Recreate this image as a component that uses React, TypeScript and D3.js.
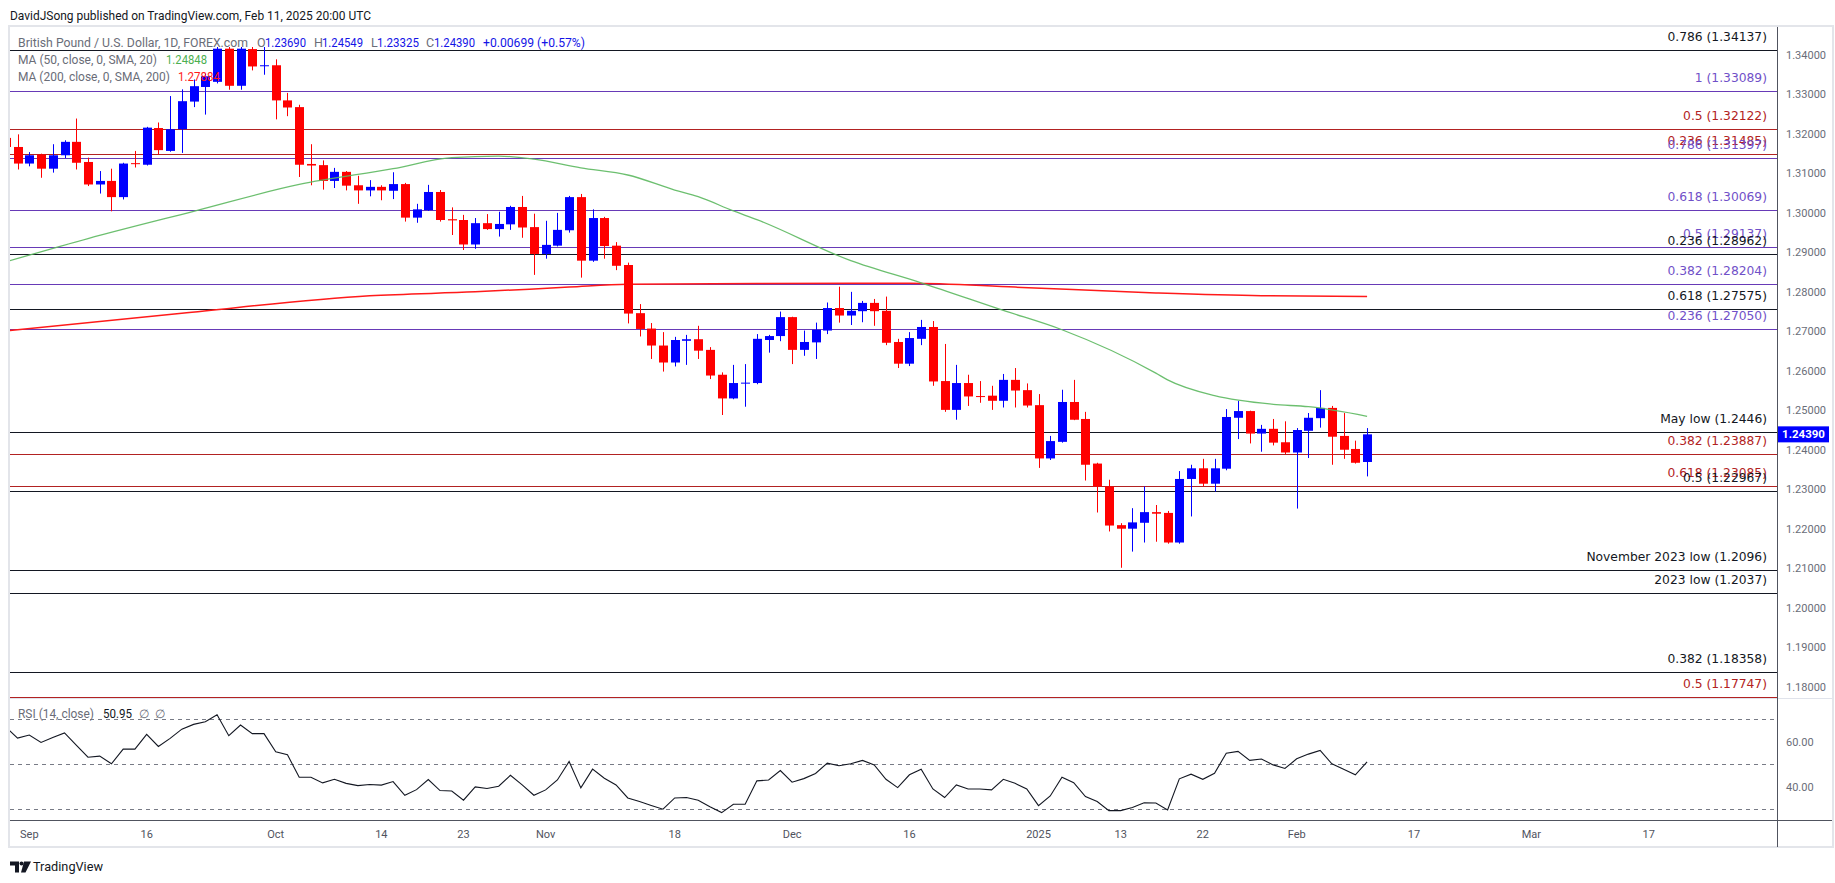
import React from 'react';
import * as d3 from 'd3';

// ---------- DATA ----------
const dates = [
  '2024-08-29','2024-08-30',
  '2024-09-02','2024-09-03','2024-09-04','2024-09-05','2024-09-06','2024-09-09','2024-09-10','2024-09-11','2024-09-12','2024-09-13',
  '2024-09-16','2024-09-17','2024-09-18','2024-09-19','2024-09-20','2024-09-23','2024-09-24','2024-09-25','2024-09-26','2024-09-27','2024-09-30',
  '2024-10-01','2024-10-02','2024-10-03','2024-10-04','2024-10-07','2024-10-08','2024-10-09','2024-10-10','2024-10-11','2024-10-14','2024-10-15',
  '2024-10-16','2024-10-17','2024-10-18','2024-10-21','2024-10-22','2024-10-23','2024-10-24','2024-10-25','2024-10-28','2024-10-29','2024-10-30','2024-10-31',
  '2024-11-01','2024-11-04','2024-11-05','2024-11-06','2024-11-07','2024-11-08','2024-11-11','2024-11-12','2024-11-13','2024-11-14','2024-11-15',
  '2024-11-18','2024-11-19','2024-11-20','2024-11-21','2024-11-22','2024-11-25','2024-11-26','2024-11-27','2024-11-28','2024-11-29',
  '2024-12-02','2024-12-03','2024-12-04','2024-12-05','2024-12-06','2024-12-09','2024-12-10','2024-12-11','2024-12-12','2024-12-13',
  '2024-12-16','2024-12-17','2024-12-18','2024-12-19','2024-12-20','2024-12-23','2024-12-24','2024-12-26','2024-12-27','2024-12-30','2024-12-31',
  '2025-01-02','2025-01-03','2025-01-06','2025-01-07','2025-01-08','2025-01-09','2025-01-10','2025-01-13','2025-01-14','2025-01-15','2025-01-16',
  '2025-01-17','2025-01-20','2025-01-21','2025-01-22','2025-01-23','2025-01-24','2025-01-27','2025-01-28','2025-01-29','2025-01-30','2025-01-31',
  '2025-02-03','2025-02-04','2025-02-05','2025-02-06','2025-02-07','2025-02-10','2025-02-11',
];

const opens = [
  1.3190,1.3167,
  1.3125,1.3148,1.3112,1.3146,1.3180,1.3129,1.3072,1.3081,1.3040,1.3126,
  1.3122,1.3215,1.3157,1.3212,1.3282,1.3319,1.3332,1.3416,1.3322,1.3415,1.3372,
  1.3374,1.3285,1.3268,1.3124,1.3121,1.3081,1.3104,1.3070,1.3057,1.3066,1.3056,
  1.3073,1.2988,1.3007,1.3053,1.2984,1.2982,1.2920,1.2974,1.2959,1.2971,1.3015,1.2964,
  1.2896,1.2917,1.2956,1.3040,1.2879,1.2987,1.2917,1.2868,1.2746,1.2707,1.2664,
  1.2621,1.2676,1.2680,1.2653,1.2590,1.2530,1.2568,1.2569,1.2678,1.2688,
  1.2736,1.2653,1.2672,1.2702,1.2759,1.2740,1.2751,1.2772,1.2752,1.2673,
  1.2618,1.2681,1.2711,1.2574,1.2501,1.2569,1.2536,1.2537,1.2524,1.2577,1.2551,
  1.2513,1.2378,1.2420,1.2521,1.2478,1.2365,1.2307,1.2209,1.2200,1.2215,1.2242,
  1.2240,1.2165,1.2326,1.2353,1.2314,1.2352,1.2481,1.2498,1.2441,1.2453,1.2419,
  1.2393,1.2448,1.2480,1.2506,1.2435,1.2402,1.23690,
];

const highs = [
  1.3200,1.3199,
  1.3154,1.3150,1.3174,1.3184,1.3239,1.3140,1.3106,1.3112,1.3127,1.3157,
  1.3218,1.3229,1.3296,1.3313,1.3338,1.3353,1.3428,1.3425,1.3434,1.3425,1.3423,
  1.3389,1.3304,1.3274,1.3174,1.3133,1.3114,1.3106,1.3094,1.3083,1.3070,1.3103,
  1.3076,1.3023,1.3071,1.3058,1.3014,1.2995,1.2987,1.2997,1.3003,1.3018,1.3043,1.2998,
  1.2980,1.3000,1.3043,1.3048,1.3009,1.2990,1.2926,1.2874,1.2769,1.2721,1.2698,
  1.2686,1.2691,1.2714,1.2660,1.2596,1.2615,1.2617,1.2693,1.2691,1.2750,
  1.2737,1.2702,1.2722,1.2773,1.2813,1.2800,1.2777,1.2782,1.2788,1.2681,
  1.2698,1.2729,1.2726,1.2668,1.2615,1.2590,1.2574,1.2562,1.2592,1.2607,1.2568,
  1.2541,1.2435,1.2552,1.2577,1.2496,1.2367,1.2324,1.2214,1.2252,1.2307,1.2260,
  1.2245,1.2346,1.2362,1.2377,1.2377,1.2503,1.2524,1.2499,1.2463,1.2478,1.2472,
  1.2455,1.2493,1.2551,1.2511,1.2493,1.2423,1.24549,
];

const lows = [
  1.3150,1.3110,
  1.3118,1.3089,1.3102,1.3139,1.3110,1.3068,1.3049,1.3004,1.3034,1.3115,
  1.3120,1.3148,1.3155,1.3152,1.3268,1.3249,1.3328,1.3312,1.3312,1.3361,1.3350,
  1.3237,1.3245,1.3091,1.3070,1.3059,1.3063,1.3057,1.3023,1.3042,1.3032,1.3035,
  1.2978,1.2975,1.3005,1.2978,1.2944,1.2906,1.2909,1.2957,1.2940,1.2957,1.2937,1.2843,
  1.2884,1.2915,1.2950,1.2836,1.2876,1.2884,1.2855,1.2720,1.2687,1.2630,1.2598,
  1.2611,1.2615,1.2630,1.2579,1.2488,1.2528,1.2509,1.2566,1.2646,1.2675,
  1.2617,1.2638,1.2630,1.2693,1.2722,1.2716,1.2723,1.2714,1.2665,1.2607,
  1.2612,1.2665,1.2562,1.2496,1.2476,1.2511,1.2519,1.2501,1.2507,1.2507,1.2507,
  1.2354,1.2374,1.2418,1.2475,1.2322,1.2241,1.2193,1.2101,1.2142,1.2165,1.2167,
  1.2162,1.2162,1.2231,1.2308,1.2294,1.2348,1.2427,1.2416,1.2395,1.2411,1.2389,
  1.2251,1.2379,1.2456,1.2362,1.2377,1.2365,1.23325,
];

const closes = [
  1.3167,1.3125,
  1.3146,1.3112,1.3146,1.3180,1.3127,1.3072,1.3081,1.3040,1.3125,1.3124,
  1.3216,1.3159,1.3212,1.3283,1.3321,1.3346,1.3416,1.3322,1.3416,1.3371,1.3374,
  1.3285,1.3267,1.3122,1.3120,1.3081,1.3104,1.3069,1.3057,1.3066,1.3057,1.3073,
  1.2988,1.3009,1.3053,1.2982,1.2981,1.2920,1.2974,1.2959,1.2972,1.3015,1.2963,1.2896,
  1.2919,1.2957,1.3040,1.2879,1.2987,1.2916,1.2866,1.2745,1.2706,1.2664,1.2621,
  1.2678,1.2680,1.2651,1.2588,1.2530,1.2569,1.2570,1.2681,1.2688,1.2736,
  1.2653,1.2673,1.2704,1.2759,1.2740,1.2752,1.2772,1.2751,1.2671,1.2618,
  1.2683,1.2711,1.2573,1.2501,1.2569,1.2535,1.2534,1.2524,1.2577,1.2550,1.2512,
  1.2378,1.2422,1.2521,1.2476,1.2362,1.2307,1.2208,1.2200,1.2216,1.2242,1.2238,
  1.2165,1.2326,1.2353,1.2314,1.2353,1.2483,1.2498,1.2441,1.2453,1.2418,1.2393,
  1.2450,1.2481,1.2506,1.2433,1.2400,1.2367,1.24390,
];

const rsiValues = [
  66.4,61.5,
  62.9,59.6,61.8,63.8,58.4,53.0,53.5,50.1,56.6,56.6,
  63.2,57.8,61.4,65.5,67.6,68.8,71.9,62.6,67.3,63.5,63.5,
  55.4,54.1,44.1,44.1,41.6,43.2,41.4,40.4,40.9,40.6,42.2,
  36.1,38.6,43.1,38.2,38.0,33.9,39.8,39.1,40.1,45.0,40.7,36.1,
  38.5,42.9,51.1,39.4,47.7,43.7,40.7,34.9,33.3,31.6,29.9,
  34.9,35.1,33.9,31.0,28.4,32.1,32.1,42.5,42.9,47.1,
  41.9,43.5,45.8,50.4,49.2,50.1,51.6,49.6,43.2,39.5,
  45.2,47.7,38.9,35.1,40.7,38.9,38.9,38.5,43.2,41.4,38.9,
  31.5,35.8,44.1,41.7,35.5,33.3,29.3,29.3,30.7,32.8,32.7,
  29.6,43.4,45.5,43.2,45.9,54.8,55.6,51.6,52.2,49.6,48.0,
  52.3,54.4,56.0,50.1,47.7,45.2,50.95,
];

// moving averages at selected bars [bar index, value]
const ma50Bars = [0, 7, 16, 25, 33, 38, 42, 45, 49, 53, 57, 59, 62, 64, 72, 78, 85, 90, 98, 99, 103, 108, 111, 116];
const ma50Vals = [1.2876, 1.2935, 1.3004, 1.3072, 1.3112, 1.3140, 1.3144, 1.3136, 1.3114, 1.3096, 1.3058, 1.3041, 1.3005, 1.2983, 1.2879, 1.2823, 1.2753, 1.2704, 1.2594, 1.2577, 1.2537, 1.2515, 1.2509, 1.24848];
const ma200Bars = [0, 15, 31, 40, 48, 53, 64, 77, 86, 98, 107, 116];
const ma200Vals = [1.2701, 1.2746, 1.2790, 1.2800, 1.2812, 1.2819, 1.2821, 1.2822, 1.2812, 1.2797, 1.2790, 1.27884];

const fibLabels = [
  '0.786 (1.34137)', '1 (1.33089)', '0.5 (1.32122)', '0.236 (1.31485)', '0.786 (1.31397)',
  '0.618 (1.30069)', '0.5 (1.29137)', '0.236 (1.28962)', '0.382 (1.28204)', '0.618 (1.27575)',
  '0.236 (1.27050)', 'May low (1.2446)', '0.382 (1.23887)', '0.618 (1.23085)', '0.5 (1.22967)',
  'November 2023 low (1.2096)', '2023 low (1.2037)', '0.382 (1.18358)', '0.5 (1.17747)',
];
const fibValues = [
  1.34137, 1.33089, 1.32122, 1.31485, 1.31397,
  1.30069, 1.29137, 1.28962, 1.28204, 1.27575,
  1.27050, 1.2446, 1.23887, 1.23085, 1.22967,
  1.2096, 1.2037, 1.18358, 1.17747,
];
const fibKinds = [
  'black', 'purple', 'red', 'red', 'purple',
  'purple', 'purple', 'black', 'purple', 'black',
  'purple', 'black', 'red', 'red', 'black',
  'black', 'black', 'black', 'red',
];

const priceTicks = [1.34, 1.33, 1.32, 1.31, 1.30, 1.29, 1.28, 1.27, 1.26, 1.25, 1.24, 1.23, 1.22, 1.21, 1.20, 1.19, 1.18];
const rsiTicks = [60, 40];
const rsiBands = [70, 50, 30];
const timeTickLabels = ['Sep', '16', 'Oct', '14', '23', 'Nov', '18', 'Dec', '16', '2025', '13', '22', 'Feb', '17', 'Mar', '17'];
const timeTickBars = [2, 12, 23, 32, 39, 46, 57, 67, 77, 88, 95, 102, 110, 120, 130, 140];

const lastPrice = 1.2439;

// ---------- STYLE ----------
const UP = '#0000ff';
const DOWN = '#ff0000';
const KIND_COLOR: Record<string, string> = { black: '#131722', purple: '#673ab7', red: '#b22222' };
const KIND_TEXT: Record<string, string> = { black: '#131722', purple: '#7050c8', red: '#b22222' };

const W = 1835;
const H = 883;
const LEFT = 10;
const PLOT_R = 1777;
const FRAME_R = 1832;
const MAIN_T = 27;
const MAIN_B = 698;
const RSI_B = 820;
const AXIS_B = 847;

export default function App() {
  React.useEffect(() => {
    document.body.style.margin = '0';
  }, []);

  const x = d3.scaleLinear().domain([2, 116]).range([29.3, 29.3 + 114 * 11.735]);
  const yP = d3.scaleLinear().domain([1.18, 1.34]).range([686.6, 55]);
  const yR = d3.scaleLinear().domain([30, 70]).range([809, 719]);

  const maLine = d3
    .line<[number, number]>()
    .x((d) => x(d[0]))
    .y((d) => yP(d[1]))
    .curve(d3.curveMonotoneX);
  const ma50Path = maLine(ma50Bars.map((b, i) => [b, ma50Vals[i]] as [number, number])) || '';
  const ma200Path = maLine(ma200Bars.map((b, i) => [b, ma200Vals[i]] as [number, number])) || '';

  const rsiPath =
    d3
      .line<number>()
      .x((_, i) => x(i))
      .y((d) => yR(d))(rsiValues) || '';

  const fontAxis = 'Roboto, "Noto Sans", sans-serif';
  const fontLabel = '"DejaVu Sans", Verdana, sans-serif';
  const gray = '#6a6d78';
  const valBlue = '#1414e6';

  return (
    <div style={{ position: 'absolute', left: 0, top: 0, width: W, height: H, background: '#fff' }}>
      <svg width={W} height={H} viewBox={`0 0 ${W} ${H}`} style={{ display: 'block' }}>
        <defs>
          <clipPath id="mainClip">
            <rect x={LEFT} y={MAIN_T} width={PLOT_R - LEFT} height={MAIN_B - MAIN_T} />
          </clipPath>
          <clipPath id="rsiClip">
            <rect x={LEFT} y={MAIN_B} width={PLOT_R - LEFT} height={RSI_B - MAIN_B} />
          </clipPath>
        </defs>
        <rect x={0} y={0} width={W} height={H} fill="#ffffff" />

        {/* header */}
        <text x={10} y={19.5} fontFamily={fontAxis} fontSize={13} fill="#131722" textLength={361} lengthAdjust="spacingAndGlyphs">
          DavidJSong published on TradingView.com, Feb 11, 2025 20:00 UTC
        </text>

        {/* frame */}
        <rect x={LEFT - 1} y={MAIN_T - 1} width={FRAME_R - LEFT + 2} height={AXIS_B - MAIN_T + 1} fill="#fff" stroke="#e3e5ea" strokeWidth={2} />

        {/* main pane */}
        <g clipPath="url(#mainClip)">
          {fibValues.map((v, i) => (
            <line key={'fl' + i} x1={LEFT} x2={PLOT_R} y1={Math.round(yP(v)) + 0.5} y2={Math.round(yP(v)) + 0.5} stroke={KIND_COLOR[fibKinds[i]]} strokeWidth={1.2} />
          ))}
          {fibValues.map((v, i) => (
            <text key={'ft' + i} x={1767} y={yP(v) - 9} textAnchor="end" fontFamily={fontLabel} fontSize={12.3} fill={KIND_TEXT[fibKinds[i]]}>
              {fibLabels[i]}
            </text>
          ))}
          <path d={ma200Path} fill="none" stroke="#ff1a1a" strokeWidth={1.5} />
          {closes.map((c, k) => {
            const o = opens[k];
            const up = c >= o;
            const col = up ? UP : DOWN;
            const cx = Math.round(x(k));
            const yTop = yP(Math.max(o, c));
            const yBot = yP(Math.min(o, c));
            return (
              <g key={'c' + k}>
                <line x1={cx + 0.5} x2={cx + 0.5} y1={yP(highs[k])} y2={yP(lows[k])} stroke={col} strokeWidth={1} />
                <rect x={cx - 4} y={yTop} width={9} height={Math.max(1, yBot - yTop)} fill={col} />
              </g>
            );
          })}
          <path d={ma50Path} fill="none" stroke="#5cb85f" strokeWidth={1.3} strokeOpacity={0.9} />
          {/* legend background for first row */}
          <rect x={LEFT} y={MAIN_T} width={585} height={20} fill="#ffffff" />
        </g>

        {/* legend */}
        <g fontFamily={fontAxis} fontSize={12.5}>
          <text x={18} y={46.5} fill={gray} textLength={230} lengthAdjust="spacingAndGlyphs">British Pound / U.S. Dollar, 1D, FOREX.com</text>
          <text x={257} y={46.5} fill={gray}>O</text>
          <text x={265} y={46.5} fill={valBlue} textLength={41} lengthAdjust="spacingAndGlyphs">1.23690</text>
          <text x={314} y={46.5} fill={gray}>H</text>
          <text x={322} y={46.5} fill={valBlue} textLength={41} lengthAdjust="spacingAndGlyphs">1.24549</text>
          <text x={371} y={46.5} fill={gray}>L</text>
          <text x={377} y={46.5} fill={valBlue} textLength={42} lengthAdjust="spacingAndGlyphs">1.23325</text>
          <text x={426} y={46.5} fill={gray}>C</text>
          <text x={434} y={46.5} fill={valBlue} textLength={41} lengthAdjust="spacingAndGlyphs">1.24390</text>
          <text x={483} y={46.5} fill={valBlue} textLength={102} lengthAdjust="spacingAndGlyphs">+0.00699 (+0.57%)</text>
          <text x={18} y={63.5} fill={gray} textLength={139} lengthAdjust="spacingAndGlyphs">MA (50, close, 0, SMA, 20)</text>
          <text x={166} y={63.5} fill="#4caf50" textLength={41} lengthAdjust="spacingAndGlyphs">1.24848</text>
          <text x={18} y={80.5} fill={gray} textLength={152} lengthAdjust="spacingAndGlyphs">MA (200, close, 0, SMA, 200)</text>
          <text x={178} y={80.5} fill="#ff1a1a" textLength={42} lengthAdjust="spacingAndGlyphs">1.27884</text>
        </g>

        {/* pane separator */}
        <line x1={LEFT} x2={FRAME_R} y1={MAIN_B + 0.5} y2={MAIN_B + 0.5} stroke="#e0e3eb" strokeWidth={1} />

        {/* RSI pane */}
        <g clipPath="url(#rsiClip)">
          {rsiBands.map((b) => (
            <line key={'rb' + b} x1={LEFT} x2={PLOT_R} y1={Math.round(yR(b)) + 0.5} y2={Math.round(yR(b)) + 0.5} stroke="#787b86" strokeWidth={1} strokeDasharray="4 4" />
          ))}
          <path d={rsiPath} fill="none" stroke="#131722" strokeWidth={1.1} />
        </g>
        <g fontFamily={fontAxis} fontSize={12}>
          <text x={18} y={718} fill={gray} textLength={76} lengthAdjust="spacingAndGlyphs">RSI (14, close)</text>
          <text x={103} y={718} fill="#131722" textLength={29} lengthAdjust="spacingAndGlyphs">50.95</text>
          <text x={139} y={718} fill={gray}>∅</text>
          <text x={155} y={718} fill={gray}>∅</text>
        </g>

        {/* time axis */}
        <line x1={LEFT} x2={FRAME_R} y1={RSI_B + 0.5} y2={RSI_B + 0.5} stroke="#50535e" strokeWidth={1} />
        {timeTickLabels.map((t, i) => (
          <text key={'tt' + i} x={x(timeTickBars[i])} y={838} textAnchor="middle" fontFamily={fontAxis} fontSize={11} fill="#50535e">
            {t}
          </text>
        ))}

        {/* price axis */}
        <line x1={PLOT_R + 0.5} x2={PLOT_R + 0.5} y1={MAIN_T} y2={AXIS_B} stroke="#50535e" strokeWidth={1} />
        {priceTicks.map((p) => (
          <text key={'pt' + p} x={1786} y={yP(p) + 4} fontFamily={fontAxis} fontSize={11} fill="#6a6d78">
            {p.toFixed(5)}
          </text>
        ))}
        {rsiTicks.map((r) => (
          <text key={'rt' + r} x={1786} y={yR(r) + 4} fontFamily={fontAxis} fontSize={11} fill="#6a6d78">
            {r.toFixed(2)}
          </text>
        ))}
        <rect x={PLOT_R + 1} y={yP(lastPrice) - 8} width={51} height={16} fill="#0000ff" />
        <text x={PLOT_R + 26.5} y={yP(lastPrice) + 4} textAnchor="middle" fontFamily={fontAxis} fontSize={11.5} fontWeight={700} fill="#ffffff">
          {lastPrice.toFixed(5)}
        </text>

        {/* TradingView logo */}
        <g fill="#131722">
          <path d="M10,861.5 h9 v11 h-4 v-7 h-5 z" />
          <circle cx={21.5} cy={863.5} r={2} />
          <path d="M24,861.5 h7 l-5.5,11 h-4.5 z" />
        </g>
        <text x={33} y={871} fontFamily={fontAxis} fontSize={13} fill="#131722" textLength={70} lengthAdjust="spacingAndGlyphs">
          TradingView
        </text>
      </svg>
    </div>
  );
}
